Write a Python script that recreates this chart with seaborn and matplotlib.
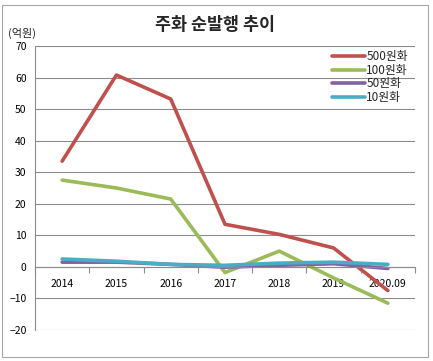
import matplotlib
matplotlib.use("Agg")
import matplotlib.pyplot as plt
import seaborn as sns
import pandas as pd
import numpy as np

years = ["2014", "2015", "2016", "2017", "2018", "2019", "2020.09"]
won500 = [33.5, 60.8, 53.2, 13.5, 10.3, 6.0, -7.5]
won100 = [27.5, 25.0, 21.5, -1.8, 5.0, -3.5, -11.5]
won50 = [1.5, 1.5, 0.8, -0.1, 0.5, 1.0, -0.5]
won10 = [2.5, 1.8, 0.8, 0.5, 1.2, 1.5, 0.8]
series_names = ["500원화", "100원화", "50원화", "10원화"]
colors = ["#C0504D", "#9BBB59", "#8064A2", "#4BACC6"]

sns.set_theme(style="white")
plt.rcParams['font.family'] = ['Noto Sans CJK KR', 'DejaVu Sans']

rows = []
for name, vals in zip(series_names, [won500, won100, won50, won10]):
    for i, v in enumerate(vals):
        rows.append({"idx": i, "year": years[i], "value": v, "series": name})
df = pd.DataFrame(rows)

fig = plt.figure(figsize=(4.33, 3.61), dpi=100)
# chart border
fig.patches.append(plt.Rectangle((2/433, 4/361), 426/433, 352/361, transform=fig.transFigure,
                                 fill=False, edgecolor="#A6A6A6", linewidth=0.8))
ax = fig.add_axes([35/433, (361-330)/361, 380/433, (330-46)/361])

sns.lineplot(data=df, x="idx", y="value", hue="series", hue_order=series_names,
             palette=colors, linewidth=2.6, ax=ax, legend=True)

ax.set_xlim(-0.5, 6.5)
ax.set_ylim(-20, 70)
ax.set_yticks(np.arange(-20, 71, 10))
ax.yaxis.grid(True, color="#8C8C8C", linewidth=0.8)
ax.set_axisbelow(True)
ax.set_xlabel("")
ax.set_ylabel("")
for s in ["top", "right"]:
    ax.spines[s].set_visible(False)
ax.spines["left"].set_color("#8C8C8C")
ax.spines["left"].set_linewidth(0.8)
ax.spines["bottom"].set_position(("data", 0))
ax.spines["bottom"].set_color("#8C8C8C")
ax.spines["bottom"].set_linewidth(0.8)
ax.set_xticks(range(len(years)))
ax.set_xticklabels(years)
ax.set_xticks(np.arange(-0.5, 6.6, 1), minor=True)
ax.tick_params(axis="x", which="major", length=0, pad=9, labelsize=7.5, colors="black")
ax.tick_params(axis="x", which="minor", length=4, width=0.8, color="#8C8C8C", direction="out", bottom=True)
ax.tick_params(axis="y", length=0, pad=6, labelsize=7.5, colors="black")

handles, labels = ax.get_legend_handles_labels()
ax.legend(handles, labels, loc="upper right", bbox_to_anchor=(1.0, 1.01), frameon=False,
          fontsize=8.5, handlelength=2.8, handletextpad=0.1, labelspacing=0.05, borderaxespad=0.2)

fig.text(215/433, 1 - 25/361, "주화 순발행 추이", ha="center", va="center", fontsize=12.5, fontweight="bold")
fig.text(8/433, 1 - 33/361, "(억원)", ha="left", va="center", fontsize=8)

fig.savefig("out.png", dpi=100)
